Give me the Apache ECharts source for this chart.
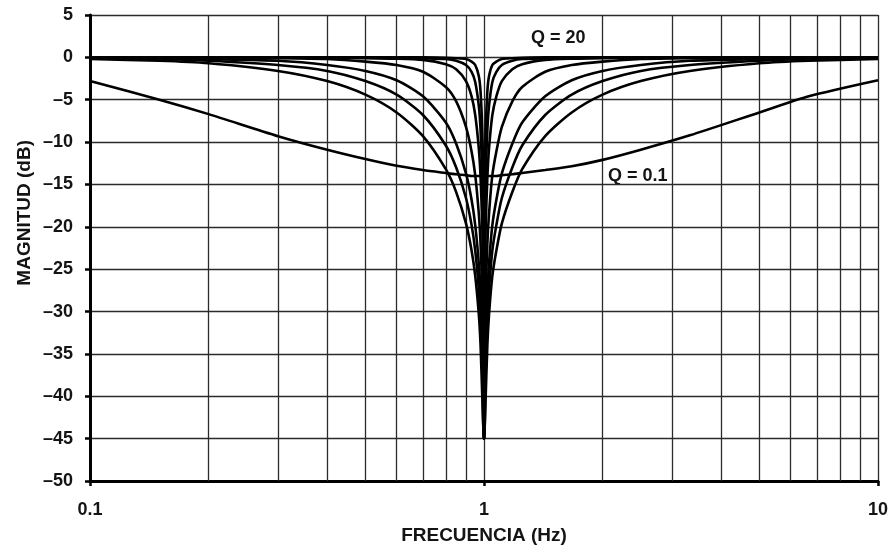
<!DOCTYPE html>
<html>
<head>
<meta charset="utf-8">
<script src="https://cdn.jsdelivr.net/npm/echarts@6/dist/echarts.min.js"></script>
<style>
  html, body { margin: 0; padding: 0; background: #fff; }
  #chart { width: 891px; height: 550px; }
</style>
</head>
<body>
<div id="chart"></div>
<script>
// Frequency points (Hz), shared by every response curve
const freq = [0.1, 0.15, 0.2, 0.3, 0.4, 0.5, 0.6, 0.7, 0.8, 0.85, 0.9, 0.93, 0.95, 0.97, 0.98, 0.99, 0.995,
  1,
  1.005, 1.01, 1.02, 1.03, 1.05, 1.075, 1.11, 1.18, 1.25, 1.43, 1.67, 2, 2.5, 3.33, 5, 6.67, 10];

// Magnitude (dB) of the notch response for each Q
const magQ0_1 = [-2.8, -5.0, -6.7, -9.3, -10.9, -12.0, -12.8, -13.3, -13.65, -13.8, -13.9, -14.0, -14.0, -14.0, -14.0, -14.0, -14.0,
  -14.0,
  -14.0, -14.0, -14.0, -14.0, -14.0, -14.0, -13.9, -13.8, -13.65, -13.3, -12.85, -12.1, -10.9, -9.2, -6.5, -4.6, -2.7];
const magQ0_5 = [-0.2, -0.4, -0.7, -1.6, -2.8, -4.4, -6.5, -9.3, -13.2, -15.9, -19.6, -22.8, -25.8, -30.3, -33.9, -40.0, null,
  -45,
  null, -40.0, -33.9, -30.3, -25.8, -22.8, -19.6, -15.9, -13.2, -9.3, -6.5, -4.4, -2.8, -1.6, -0.7, -0.4, -0.2];
const magQ0_707 = [-0.1, -0.2, -0.4, -0.9, -1.6, -2.8, -4.4, -6.8, -10.4, -13.0, -16.6, -19.8, -22.8, -27.3, -30.9, -37.0, -43.0,
  -45,
  -43.0, -37.0, -30.9, -27.3, -22.8, -19.8, -16.6, -13.0, -10.4, -6.8, -4.4, -2.8, -1.6, -0.9, -0.4, -0.2, -0.1];
const magQ1 = [0.0, -0.1, -0.2, -0.4, -0.9, -1.6, -2.7, -4.6, -7.7, -10.2, -13.7, -16.8, -19.8, -24.3, -27.9, -33.9, -40.0,
  -45,
  -40.0, -33.9, -27.9, -24.3, -19.8, -16.8, -13.7, -10.2, -7.7, -4.6, -2.7, -1.6, -0.9, -0.4, -0.2, -0.1, 0.0];
const magQ2 = [0.0, 0.0, -0.05, -0.1, -0.2, -0.5, -0.9, -1.7, -3.5, -5.2, -8.2, -11.1, -13.9, -18.4, -21.9, -27.9, -34.0,
  -45,
  -34.0, -27.9, -21.9, -18.4, -13.9, -11.1, -8.2, -5.2, -3.5, -1.7, -0.9, -0.5, -0.2, -0.1, -0.05, 0.0, 0.0];
const magQ5 = [0.0, 0.0, 0.0, 0.0, 0.0, -0.1, -0.15, -0.3, -0.8, -1.4, -2.8, -4.6, -6.8, -10.7, -14.1, -20.0, -26.0,
  -45,
  -26.0, -20.0, -14.1, -10.7, -6.8, -4.6, -2.8, -1.4, -0.8, -0.3, -0.15, -0.1, 0.0, 0.0, 0.0, 0.0, 0.0];
const magQ10 = [0.0, 0.0, 0.0, 0.0, 0.0, 0.0, 0.0, -0.1, -0.2, -0.4, -0.9, -1.7, -2.9, -5.7, -8.5, -14.1, -20.0,
  -45,
  -20.0, -14.1, -8.5, -5.7, -2.9, -1.7, -0.9, -0.4, -0.2, -0.1, 0.0, 0.0, 0.0, 0.0, 0.0, 0.0, 0.0];
const magQ20 = [0.0, 0.0, 0.0, 0.0, 0.0, 0.0, 0.0, 0.0, -0.05, -0.1, -0.2, -0.5, -0.9, -2.2, -4.0, -8.6, -14.1,
  -45,
  -14.1, -8.6, -4.0, -2.2, -0.9, -0.5, -0.2, -0.1, -0.05, 0.0, 0.0, 0.0, 0.0, 0.0, 0.0, 0.0, 0.0];

const curves = [magQ0_1, magQ0_5, magQ0_707, magQ1, magQ2, magQ5, magQ10, magQ20];

// Axis ticks and the logarithmic grid positions between decades
const xTicks = [0.1, 1, 10];
const xMinorGrid = [0.2, 0.3, 0.4, 0.5, 0.6, 0.7, 0.8, 0.9, 2, 3, 4, 5, 6, 7, 8, 9];

const FONT = '"Liberation Sans", Arial, sans-serif';
const INK = '#000';
const TEXT = '#141414';
const GRID = '#2b2b2b';

function pairs(values) {
  const out = [];
  for (let i = 0; i < freq.length; i++) {
    if (values[i] !== null) out.push([freq[i], values[i]]);
  }
  return out;
}

const series = curves.map(function (values) {
  return {
    type: 'line',
    data: pairs(values),
    showSymbol: false,
    symbol: 'none',
    smooth: 0.25,
    lineStyle: { color: INK, width: 2.6 },
    silent: true,
    z: 5
  };
});

// Vertical grid lines for the intermediate log divisions
series.push({
  type: 'line',
  data: [],
  silent: true,
  markLine: {
    silent: true,
    symbol: ['none', 'none'],
    label: { show: false },
    animation: false,
    lineStyle: { color: GRID, width: 1.3, type: 'solid' },
    data: xMinorGrid.map(function (v) { return { xAxis: v }; })
  },
  z: 1
});

const chart = echarts.init(document.getElementById('chart'), null, { renderer: 'canvas' });
chart.setOption({
  animation: false,
  backgroundColor: '#fff',
  grid: { left: 90, right: 11, top: 15, bottom: 68 },
  xAxis: {
    type: 'log',
    logBase: 10,
    min: xTicks[0],
    max: xTicks[xTicks.length - 1],
    axisLine: { show: true, onZero: false, lineStyle: { color: INK, width: 3 } },
    axisTick: { show: true, length: 5, lineStyle: { color: INK, width: 2.5 } },
    axisLabel: {
      margin: 20,
      color: TEXT,
      fontFamily: FONT,
      fontWeight: 'bold',
      fontSize: 18,
      formatter: function (v) { return String(v); }
    },
    splitLine: { show: true, lineStyle: { color: GRID, width: 1.3 } },
    name: 'FRECUENCIA (Hz)',
    nameLocation: 'middle',
    nameGap: 45,
    nameTextStyle: { color: TEXT, fontFamily: FONT, fontWeight: 'bold', fontSize: 19 }
  },
  yAxis: {
    type: 'value',
    min: -50,
    max: 5,
    interval: 5,
    axisLine: { show: true, onZero: false, lineStyle: { color: INK, width: 3 } },
    axisTick: { show: true, length: 5, lineStyle: { color: INK, width: 2.5 } },
    axisLabel: {
      margin: 17,
      color: TEXT,
      fontFamily: FONT,
      fontWeight: 'bold',
      fontSize: 18,
      formatter: function (v) { return v < 0 ? '\u2013' + Math.abs(v) : String(v); }
    },
    splitLine: { show: true, lineStyle: { color: GRID, width: 1.3 } }
  },
  graphic: [
    {
      type: 'text',
      left: 15, top: 140,
      rotation: Math.PI / 2,
      style: { text: 'MAGNITUD (dB)', fill: TEXT, font: 'bold 19px ' + FONT }
    },
    {
      type: 'text',
      left: 531, top: 29,
      style: { text: 'Q = 20', fill: TEXT, font: 'bold 18px ' + FONT }
    },
    {
      type: 'text',
      left: 608, top: 167,
      style: { text: 'Q = 0.1', fill: TEXT, font: 'bold 18px ' + FONT }
    }
  ],
  series: series
});
</script>
</body>
</html>
